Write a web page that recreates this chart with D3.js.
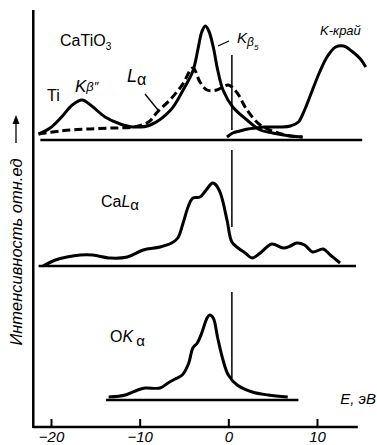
<!DOCTYPE html>
<html>
<head>
<meta charset="utf-8">
<script src="https://cdn.jsdelivr.net/npm/d3@7"></script>
<style>
  body { margin: 0; background: #fff; }
  text { font-family: Arial, "Liberation Sans", sans-serif; fill: #000; }
</style>
</head>
<body>
<script>
// energies in eV, intensities in relative units
const tiKbE = [-21.4, -20.1, -18.8, -17.6, -16.5, -15.4, -13.9, -12.2, -10.7, -8.8, -6.5, -5.1, -4.0, -3.4, -3.0, -2.6, -2.2, -1.7, -1.2, -0.6, 0.5, 2.1, 3.6, 5.0, 7.0, 8.4];
const tiKbI = [6, 12, 23, 35, 40, 34, 23, 16, 13, 15, 30, 50, 69, 92, 108, 114, 109, 93, 70, 50, 33, 20, 10, 7, 4, 3];

const tiLaE = [-21.4, -19.0, -16.0, -13.0, -10.7, -9.0, -8.0, -6.6, -5.2, -4.0, -3.2, -2.4, -1.3, 0.0, 1.0, 2.1, 3.6, 5.3, 7.0, 8.3];
const tiLaI = [6, 9, 11, 12, 13, 18, 28, 40, 55, 72, 58, 50, 50, 55, 47, 30, 15, 8, 4, 3];

const tiKedgeE = [-0.15, 0.5, 1.3, 2.2, 3.1, 4.1, 5.8, 7.0, 7.9, 8.6, 9.4, 10.3, 11.2, 12.1, 13.0, 13.9, 14.9, 15.5];
const tiKedgeI = [3, 7, 9, 11, 12, 13, 13, 14, 18, 30, 48, 68, 84, 93, 94, 89, 81, 73];

const caLaE = [-20.9, -19.5, -18.2, -16.7, -15.3, -13.3, -11.4, -9.6, -7.7, -6.4, -5.7, -5.1, -4.5, -4.0, -3.2, -2.5, -1.8, -1.5, -0.9, -0.15, 0.4, 1.1, 1.9, 2.7, 3.6, 4.9, 6.2, 7.0, 7.7, 8.6, 9.5, 10.7, 11.5, 12.6];
const caLaI = [0, 6, 9, 11, 11, 8, 9, 16, 19, 23, 28, 43, 60, 68, 69, 76, 83, 82, 73, 46, 24, 18, 13, 8, 13, 22, 18, 20, 23, 21, 14, 17, 11, 3];

const oKaE = [-13.5, -11.6, -10.2, -9.4, -7.7, -6.8, -6.0, -5.2, -4.5, -4.0, -3.5, -3.0, -2.4, -2.1, -1.7, -1.2, -0.6, 0.0, 1.0, 2.7, 4.5, 6.7];
const oKaI = [3, 5, 10, 12, 12, 17, 21, 25, 36, 52, 57, 67, 82, 85, 82, 62, 40, 25, 15, 8, 5, 3];

// baselines of each panel (eV range) and the vertical reference mark
const baseRanges = [[-21.2, 15.1], [-21.4, 14.4], [-13.8, 7.9]];
const markE = 0.4;
const markSpans = [[10, 85], [39, 116], [22, 108]];

const xTicks = [-20, -10, 0, 10];
const axisExtent = [-22, 14.6];

const width = 377, height = 445;
const svg = d3.select("body").append("svg")
    .attr("width", width)
    .attr("height", height);

const x = d3.scaleLinear().domain([-20, 10]).range([51, 317]);
const panelBase = [140, 266, 400];
const yPanel = panelBase.map(b => d3.scaleLinear().domain([0, 100]).range([b, b - 100]));

const zip = (es, is) => es.map((e, i) => [e, is[i]]);

function curve(p, es, is, dash) {
    const line = d3.line()
        .x(d => x(d[0]))
        .y(d => yPanel[p](d[1]))
        .curve(d3.curveCatmullRom.alpha(0.5));
    svg.append("path")
        .datum(zip(es, is))
        .attr("d", line)
        .attr("fill", "none")
        .attr("stroke", "#000")
        .attr("stroke-width", 3)
        .attr("stroke-linejoin", "round")
        .attr("stroke-dasharray", dash ? "8,4" : null);
}

// baselines
baseRanges.forEach((r, p) => {
    svg.append("line")
        .attr("x1", x(r[0])).attr("x2", x(r[1]))
        .attr("y1", panelBase[p]).attr("y2", panelBase[p])
        .attr("stroke", "#000").attr("stroke-width", 2.5);
});

// reference marks
markSpans.forEach((s, p) => {
    svg.append("line")
        .attr("x1", x(markE)).attr("x2", x(markE))
        .attr("y1", yPanel[p](s[0])).attr("y2", yPanel[p](s[1]))
        .attr("stroke", "#000").attr("stroke-width", 1.5);
});

curve(0, tiLaE, tiLaI, true);
curve(0, tiKbE, tiKbI, false);
curve(0, tiKedgeE, tiKedgeI, false);
curve(1, caLaE, caLaI, false);
curve(2, oKaE, oKaI, false);

// axes
const axisY = 427;
svg.append("line")
    .attr("x1", x(axisExtent[0])).attr("x2", x(axisExtent[1]))
    .attr("y1", axisY).attr("y2", axisY)
    .attr("stroke", "#000").attr("stroke-width", 2.5);
svg.append("line")
    .attr("x1", x(axisExtent[0])).attr("x2", x(axisExtent[0]))
    .attr("y1", 10).attr("y2", axisY + 1)
    .attr("stroke", "#000").attr("stroke-width", 2.5);

const xAxis = svg.append("g")
    .attr("transform", `translate(0,${axisY})`)
    .call(d3.axisBottom(x).tickValues(xTicks).tickSizeInner(-8).tickSizeOuter(0).tickPadding(4));
xAxis.select(".domain").remove();
xAxis.selectAll(".tick line").attr("stroke-width", 2);
xAxis.selectAll(".tick text")
    .attr("font-size", 15)
    .attr("font-style", "italic")
    .attr("font-family", "Arial, 'Liberation Sans', sans-serif")
    .attr("fill", "#000");

svg.append("text")
    .attr("x", 376).attr("y", 404)
    .attr("text-anchor", "end")
    .attr("font-size", 15).attr("font-style", "italic")
    .text("E, эВ");

// y label with arrow
svg.append("text")
    .attr("transform", "translate(22,252) rotate(-90)")
    .attr("text-anchor", "middle")
    .attr("font-size", 16.5).attr("font-style", "italic")
    .text("Интенсивность отн.ед");
svg.append("line")
    .attr("x1", 16).attr("x2", 16).attr("y1", 143).attr("y2", 121)
    .attr("stroke", "#000").attr("stroke-width", 1.3);
svg.append("path")
    .attr("d", "M16,115 L12.5,124 L19.5,124 Z")
    .attr("fill", "#000");

// labels
const catio = svg.append("text").attr("x", 60).attr("y", 46).attr("font-size", 16);
catio.append("tspan").text("CaTiO");
catio.append("tspan").attr("font-size", 10).attr("dy", 4).text("3");

svg.append("text").attr("x", 47).attr("y", 101).attr("font-size", 16).text("Ti");

const kb2 = svg.append("text").attr("x", 75).attr("y", 92).attr("font-size", 17).attr("font-style", "italic");
kb2.append("tspan").text("K");
kb2.append("tspan").attr("font-size", 13).attr("dy", -1).text("β\u2033");

const la = svg.append("text").attr("x", 127).attr("y", 82).attr("font-size", 18).attr("font-style", "italic");
la.append("tspan").text("L");
la.append("tspan").attr("font-size", 16).attr("dy", 3).attr("font-style", "normal").text("α");
svg.append("line").attr("x1", 145).attr("y1", 94).attr("x2", 158).attr("y2", 110)
    .attr("stroke", "#000").attr("stroke-width", 1.3);

const kb5 = svg.append("text").attr("x", 237).attr("y", 43).attr("font-size", 15).attr("font-style", "italic");
kb5.append("tspan").text("K");
kb5.append("tspan").attr("font-size", 12).attr("dy", 3).text("β");
kb5.append("tspan").attr("font-size", 8).attr("dy", 4).text("5");
svg.append("line").attr("x1", 218).attr("y1", 46).attr("x2", 229).attr("y2", 41)
    .attr("stroke", "#000").attr("stroke-width", 1.3);

svg.append("text").attr("x", 320).attr("y", 35).attr("font-size", 13).attr("font-style", "italic").text("K-край");

const cal = svg.append("text").attr("x", 101).attr("y", 207).attr("font-size", 16);
cal.append("tspan").text("Ca");
cal.append("tspan").attr("font-style", "italic").text("L");
cal.append("tspan").attr("font-size", 15).attr("dy", 3).text("α");

const oka = svg.append("text").attr("x", 110).attr("y", 342).attr("font-size", 16);
oka.append("tspan").text("O");
oka.append("tspan").attr("font-style", "italic").text("K");
oka.append("tspan").attr("font-size", 15).attr("dy", 4).attr("dx", 3).text("α");
</script>
</body>
</html>
